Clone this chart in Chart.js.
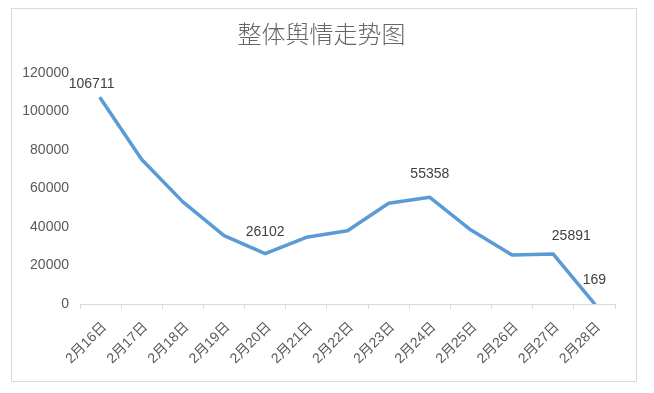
<!DOCTYPE html>
<html><head><meta charset="utf-8">
<script src="https://cdn.jsdelivr.net/npm/chart.js@4"></script>
<style>
html,body{margin:0;padding:0;background:#fff;}
#wrap{position:relative;width:654px;height:393px;}
#frame{position:absolute;left:11px;top:8px;width:626px;height:374px;border:1px solid #d9d9d9;box-sizing:border-box;}
canvas{position:absolute;left:0;top:0;}
</style></head><body>
<div id="wrap"><div id="frame"></div><canvas id="c" width="654" height="393"></canvas></div>
<script>
const categories = ['2月16日','2月17日','2月18日','2月19日','2月20日','2月21日','2月22日','2月23日','2月24日','2月25日','2月26日','2月27日','2月28日'];
const values = [106711, 75000, 53000, 35500, 26102, 34600, 38000, 52300, 55358, 38400, 25400, 25891, 169];
const labelledIndices = [0, 4, 8, 11, 12];
const yMin = 0, yMax = 120000, yStep = 20000;
const titleText = '整体舆情走势图';

const labelStyle = {
  offsets: {0: [-9, -14], 4: [0, -22], 8: [0, -23], 11: [18, -18], 12: [0, -24]},
  font: "14px 'Liberation Sans', Arial, sans-serif",
  color: '#404040'
};

const dataLabels = {
  id: 'dataLabels',
  afterDatasetsDraw(chart) {
    const meta = chart.getDatasetMeta(0);
    const ctx = chart.ctx;
    ctx.save();
    ctx.font = labelStyle.font;
    ctx.fillStyle = labelStyle.color;
    ctx.textAlign = 'center';
    ctx.textBaseline = 'middle';
    labelledIndices.forEach(i => {
      const p = meta.data[i];
      const off = labelStyle.offsets[i] || [0, -22];
      ctx.fillText(String(values[i]), p.x + off[0], p.y + off[1]);
    });
    ctx.restore();
  }
};

new Chart(document.getElementById('c'), {
  type: 'line',
  data: {
    labels: categories,
    datasets: [{
      data: values,
      yAxisID: 'y',
      borderColor: '#5b9bd5',
      borderWidth: 3.5,
      pointRadius: 0,
      tension: 0,
      fill: false,
      borderJoinStyle: 'round',
      borderCapStyle: 'round'
    }]
  },
  options: {
    responsive: false,
    animation: false,
    devicePixelRatio: 1,
    layout: {padding: {left: 0, right: 11, top: 0, bottom: 0}},
    plugins: {
      legend: {display: false},
      tooltip: {enabled: false},
      title: {
        display: true,
        text: titleText,
        color: '#666666',
        font: {family: "'Noto Sans CJK SC', sans-serif", size: 24, weight: 300},
        padding: {top: 19, bottom: 25}
      }
    },
    scales: {
      x: {
        offset: true,
        grid: {offset: true, drawOnChartArea: false, drawTicks: true, tickLength: 5, color: '#d9d9d9'},
        border: {color: '#d9d9d9', width: 1},
        ticks: {
          minRotation: 45, maxRotation: 45, autoSkip: false,
          color: '#595959', padding: 10, labelOffset: 4,
          font: {family: "'Liberation Sans', 'Noto Sans CJK SC', sans-serif", size: 14}
        },
        afterFit(s) { s.height = 89; }
      },
      y: {
        position: 'left',
        min: yMin, max: yMax,
        grid: {display: false, drawTicks: false},
        border: {display: false},
        ticks: {
          stepSize: yStep, color: '#595959', padding: 11,
          font: {family: "'Liberation Sans', Arial, sans-serif", size: 14},
          callback: v => String(v)
        },
        afterFit(s) { s.width = 80; }
      },
      yRight: {
        position: 'right',
        min: yMin, max: yMax,
        grid: {display: false, drawTicks: false},
        border: {display: false},
        ticks: {display: false},
        afterFit(s) { s.width = 28; }
      }
    }
  },
  plugins: [dataLabels]
});
</script>
</body></html>
